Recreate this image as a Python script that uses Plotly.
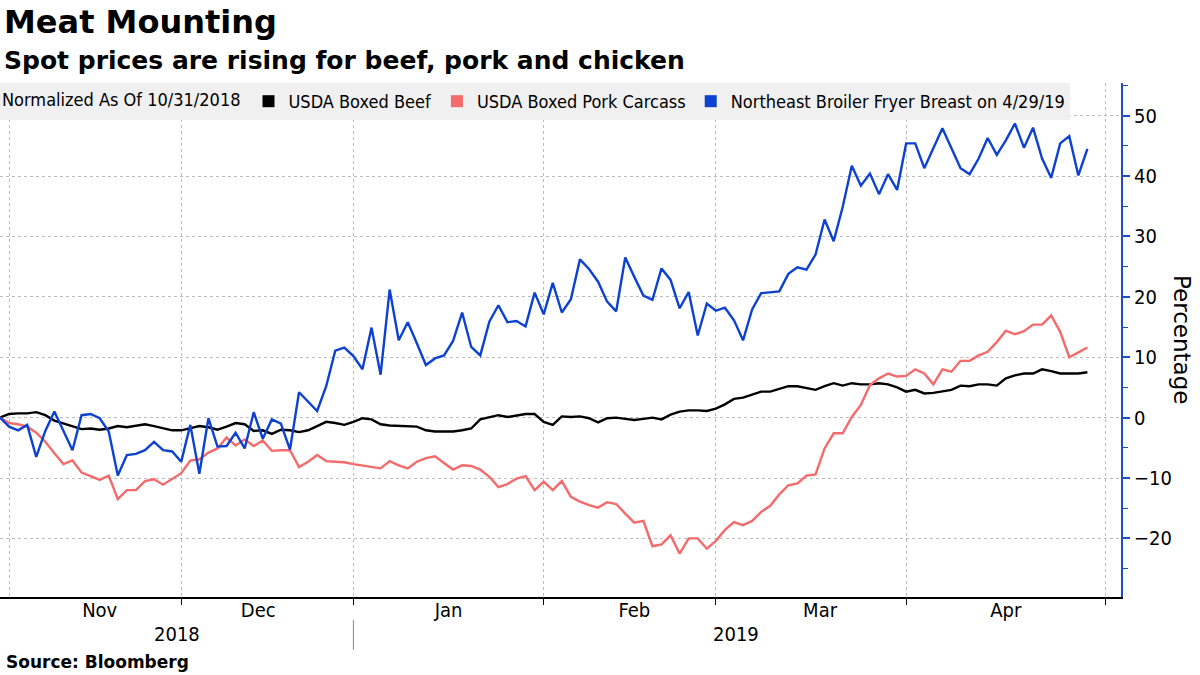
import plotly.graph_objects as go
import pandas as pd

# ---- data -------------------------------------------------------------
HOLIDAYS = ["2018-11-12", "2018-11-22", "2018-11-23", "2018-12-05",
            "2018-12-25", "2019-01-01", "2019-01-21", "2019-02-18"]
DATES = pd.bdate_range("2018-10-31", "2019-04-29", freq="C", holidays=HOLIDAYS)

BEEF = [0, 0.6, 0.7, 0.7, 0.9, 0.4, -0.5, -1.0, -1.5, -1.9,
        -1.8, -2.0, -1.8, -1.4, -1.6, -1.4, -1.1, -1.4, -1.7, -2.1,
        -2.1, -1.8, -1.4, -1.6, -2.0, -1.5, -0.9, -1.1, -2.2, -2.1,
        -2.7, -2.0, -2.1, -2.4, -2.1, -1.4, -0.7, -0.9, -1.2, -0.7,
        -0.1, -0.3, -1.1, -1.3, -1.4, -1.5, -1.5, -2.1, -2.3, -2.3,
        -2.3, -2.1, -1.8, -0.3, 0.1, 0.4, 0.1, 0.3, 0.6, 0.6,
        -0.7, -1.2, 0.2, 0.1, 0.2, -0.1, -0.8, -0.1, 0.0, -0.2,
        -0.4, -0.2, 0.0, -0.3, 0.5, 1.0, 1.2, 1.2, 1.1, 1.5,
        2.2, 3.1, 3.3, 3.8, 4.3, 4.3, 4.8, 5.2, 5.2, 4.9,
        4.6, 5.2, 5.7, 5.3, 5.7, 5.5, 5.5, 5.7, 5.5, 5.0,
        4.3, 4.6, 4.0, 4.1, 4.4, 4.6, 5.3, 5.2, 5.5, 5.5,
        5.3, 6.5, 7.0, 7.3, 7.3, 8.0, 7.7, 7.3, 7.3, 7.3,
        7.5]

PORK = [0, -0.9, -1.1, -1.5, -2.5, -4.0, -5.9, -7.7, -7.1, -9.1,
        -9.7, -10.3, -9.6, -13.5, -12.0, -12.0, -10.5, -10.2, -11.1, -10.2,
        -9.2, -7.1, -6.9, -5.8, -5.1, -3.3, -4.6, -3.6, -4.7, -3.8,
        -5.5, -5.4, -5.4, -8.2, -7.3, -6.2, -7.2, -7.3, -7.4, -7.7,
        -7.9, -8.1, -8.4, -7.2, -7.9, -8.4, -7.3, -6.7, -6.4, -7.5,
        -8.6, -7.9, -8.0, -8.6, -9.8, -11.5, -11.0, -10.1, -9.7, -12.0,
        -10.6, -12.0, -10.5, -13.1, -13.9, -14.5, -14.9, -14.0, -14.3, -15.9,
        -17.4, -17.1, -21.3, -21.0, -19.5, -22.5, -20.0, -20.0, -21.7, -20.4,
        -18.6, -17.3, -17.8, -17.1, -15.6, -14.6, -12.7, -11.2, -10.9, -9.6,
        -9.4, -5.1, -2.6, -2.6, 0.1, 2.1, 5.4, 6.5, 7.3, 6.8,
        6.9, 8.0, 7.3, 5.5, 8.0, 7.6, 9.4, 9.4, 10.3, 10.9,
        12.5, 14.4, 13.8, 14.3, 15.4, 15.4, 16.9, 14.2, 10.0, 10.8,
        11.6]

CHICKEN = [0, -1.5, -2.1, -1.2, -6.5, -2.2, 1.0, -2.2, -5.4, 0.4,
           0.6, -0.1, -2.3, -9.6, -6.2, -6.0, -5.4, -4.0, -5.4, -5.6,
           -7.3, -1.2, -9.3, -0.1, -4.8, -4.7, -2.5, -5.1, 0.9, -3.5,
           -0.3, -1.0, -5.3, 4.2, 2.6, 1.1, 5.2, 11.1, 11.6, 10.2,
           8.0, 14.9, 7.1, 21.2, 12.8, 15.8, 12.3, 8.7, 9.8, 10.3,
           12.7, 17.4, 11.7, 10.3, 15.9, 18.6, 15.8, 16.0, 15.1, 20.7,
           17.1, 22.3, 17.4, 19.6, 26.2, 24.6, 22.5, 19.2, 17.6, 26.5,
           23.3, 20.2, 19.5, 24.7, 22.8, 18.1, 20.8, 13.6, 18.9, 17.7,
           18.2, 16.1, 12.8, 17.9, 20.6, 20.7, 20.9, 23.8, 24.9, 24.5,
           27.0, 32.8, 29.2, 34.9, 41.7, 38.4, 40.4, 37.0, 40.3, 37.7,
           45.4, 45.4, 41.3, 44.6, 47.9, 44.6, 41.3, 40.3, 42.9, 46.3,
           43.5, 45.9, 48.7, 44.7, 48.0, 42.9, 39.7, 45.4, 46.6, 40.1,
           44.5]

SERIES_NAMES = ["USDA Boxed Beef", "USDA Boxed Pork Carcass",
                "Northeast Broiler Fryer Breast on 4/29/19"]
SERIES_VALUES = [BEEF, PORK, CHICKEN]
SERIES_COLORS = ["#000000", "#f56a6a", "#0c42cf"]

LEGEND_TITLE = "Normalized As Of 10/31/2018"
TITLE = "Meat Mounting"
SUBTITLE = "Spot prices are rising for beef, pork and chicken"
SOURCE = "Source: Bloomberg"
YEAR_LABELS = ["2018", "2019"]
Y_TITLE = "Percentage"

# ---- styles -----------------------------------------------------------
AXIS_BLUE = "#1b4fc4"
GRID = "#bcbcbc"
COND = "DejaVu Sans Condensed"
BOLD = "DejaVu Sans"

fig = go.Figure()
for name, vals, color in zip(SERIES_NAMES, SERIES_VALUES, SERIES_COLORS):
    fig.add_trace(go.Scatter(x=DATES, y=vals, mode="lines", name=name,
                             legendgroup=name, showlegend=False,
                             line=dict(color=color, width=2.4)))
for name, color in zip(SERIES_NAMES, SERIES_COLORS):
    fig.add_trace(go.Scatter(x=[None], y=[None], mode="markers", name=name,
                             legendgroup=name,
                             marker=dict(symbol="square", size=12, color=color)))

fig.update_layout(
    width=1200, height=675,
    margin=dict(l=0, r=79, t=83, b=78),
    paper_bgcolor="white", plot_bgcolor="white",
    showlegend=True,
    legend=dict(orientation="h", x=0, y=1, xanchor="left", yanchor="top",
                bgcolor="#f0f0f0", borderwidth=0, itemwidth=30,
                traceorder="normal",
                title=dict(text=LEGEND_TITLE, side="left",
                           font=dict(family=COND, size=18, color="black")),
                font=dict(family=COND, size=18, color="black")),
    xaxis=dict(type="date",
               range=["2018-10-31", "2019-05-02 17:00"],
               rangebreaks=[dict(bounds=["sat", "mon"]), dict(values=HOLIDAYS)],
               dtick="M1", tick0="2018-11-01", tickformat="%b",
               ticklabelmode="period", ticklabelstandoff=-12,
               showline=True, linecolor="black", linewidth=2,
               ticks="outside", ticklen=6, tickcolor="black", tickwidth=1,
               showgrid=True, gridcolor=GRID, griddash="dot", gridwidth=1,
               zeroline=False,
               tickfont=dict(family=COND, size=20, color="black")),
    yaxis=dict(side="right", range=[-29.7, 55.4], dtick=10, tick0=0,
               showline=True, linecolor=AXIS_BLUE, linewidth=2,
               ticks="outside", ticklen=7, tickwidth=2, tickcolor=AXIS_BLUE,
               minor=dict(dtick=5, tick0=0, ticks="outside", ticklen=5,
                          tickwidth=1, tickcolor=AXIS_BLUE, showgrid=False),
               showgrid=True, gridcolor=GRID, griddash="dot", gridwidth=1,
               zeroline=False,
               tickfont=dict(family=COND, size=20, color="black")),
)

annotations = [
    dict(text=TITLE, x=0.002, y=1.1187, xanchor="left", yanchor="middle",
         font=dict(family=BOLD, size=32, color="black", weight="bold")),
    dict(text=SUBTITLE, x=0.002, y=1.0447, xanchor="left", yanchor="middle",
         font=dict(family=BOLD, size=25, color="black", weight="bold")),
    dict(text=SOURCE, x=0.004, y=-0.1265, xanchor="left", yanchor="middle",
         font=dict(family=BOLD, size=17, color="black", weight="bold")),
    dict(text=YEAR_LABELS[0], x=0.1575, y=-0.072, xanchor="center", yanchor="middle",
         font=dict(family=COND, size=20, color="black")),
    dict(text=YEAR_LABELS[1], x=0.657, y=-0.072, xanchor="center", yanchor="middle",
         font=dict(family=COND, size=20, color="black")),
    dict(text=Y_TITLE, x=1.0544, y=0.5, xanchor="center", yanchor="middle",
         textangle=90, font=dict(family="DejaVu Sans", size=23, color="black")),
]
for a in annotations:
    a.update(xref="paper", yref="paper", showarrow=False)
fig.update_layout(annotations=annotations)

fig.add_shape(type="line", xref="x", yref="paper",
              x0="2019-01-01", x1="2019-01-01", y0=-0.045, y1=-0.103,
              line=dict(color="#888888", width=1))

fig.write_html("out.html",
               config={"displayModeBar": False},
               post_script="document.body.style.margin='0';document.body.style.overflow='hidden';")
